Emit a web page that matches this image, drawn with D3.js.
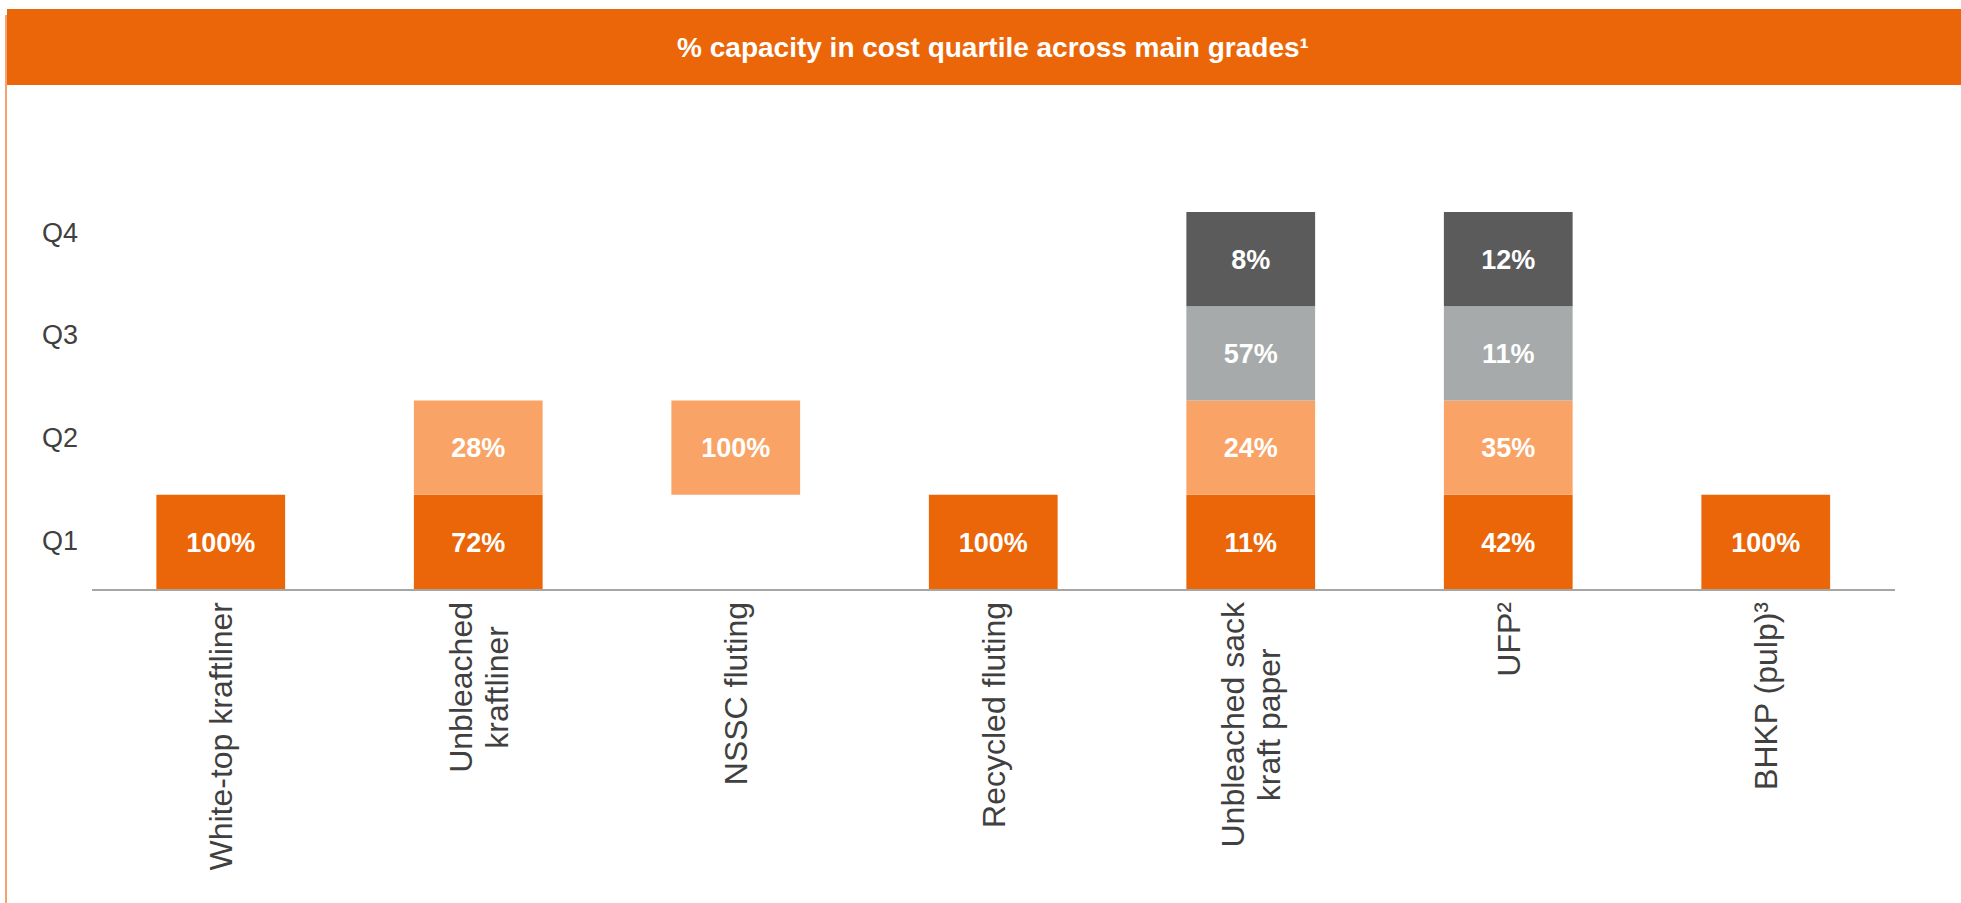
<!DOCTYPE html>
<html>
<head>
<meta charset="utf-8">
<script src="https://d3js.org/d3.v7.min.js"></script>
<style>
  body { margin: 0; background: #fff; }
  text { font-family: "Liberation Sans", Arial, sans-serif; }
</style>
</head>
<body>
<div id="chart"></div>
<script>
// grades along the x axis ("\n" = line break in the label)
var categories = ["White-top kraftliner", "Unbleached\nkraftliner", "NSSC fluting", "Recycled fluting",
                  "Unbleached sack\nkraft paper", "UFP²", "BHKP (pulp)³"];
var quartiles = ["Q1", "Q2", "Q3", "Q4"];

// % of capacity in each cost quartile (null = no block)
var q1 = [100, 72, null, 100, 11, 42, 100];
var q2 = [null, 28, 100, null, 24, 35, null];
var q3 = [null, null, null, null, 57, 11, null];
var q4 = [null, null, null, null, 8, 12, null];

var title = "% capacity in cost quartile across main grades¹";

var W = 1961, H = 903;
var colors = { Q1: "#eb6608", Q2: "#f9a466", Q3: "#a6aaab", Q4: "#5b5b5b" };

var svg = d3.select("#chart").append("svg")
    .attr("width", W)
    .attr("height", H);

// header band + left frame line
svg.append("rect").attr("x", 7).attr("y", 9).attr("width", W - 7).attr("height", 76)
    .attr("fill", "#eb6608");
svg.append("rect").attr("x", 5).attr("y", 15).attr("width", 2).attr("height", H - 15)
    .attr("fill", "#f5a36b");
svg.append("text")
    .attr("x", 993).attr("y", 57)
    .attr("text-anchor", "middle")
    .attr("fill", "#fff")
    .style("font-size", "28px")
    .style("font-weight", "bold")
    .text(title);

// scales
var x = d3.scaleBand()
    .domain(categories)
    .range([92, 1894.5])
    .paddingInner(0.5)
    .paddingOuter(0.25);

var y = d3.scaleBand()
    .domain(quartiles)
    .range([589, 212]);

// quartile labels sit a bit apart from the bands
var yLab = d3.scalePoint()
    .domain(quartiles)
    .range([540, 232]);

// flatten into cells
var series = [q1, q2, q3, q4];
var cells = [];
categories.forEach(function(c, i) {
    series.forEach(function(s, j) {
        if (s[i] != null) cells.push({ cat: c, q: quartiles[j], v: s[i] });
    });
});

svg.selectAll("rect.cell")
    .data(cells)
    .enter()
    .append("rect")
    .attr("class", "cell")
    .attr("x", function(d) { return x(d.cat); })
    .attr("y", function(d) { return y(d.q); })
    .attr("width", x.bandwidth())
    .attr("height", y.bandwidth())
    .attr("fill", function(d) { return colors[d.q]; });

svg.selectAll("text.val")
    .data(cells)
    .enter()
    .append("text")
    .attr("class", "val")
    .attr("x", function(d) { return x(d.cat) + x.bandwidth() / 2; })
    .attr("y", function(d) { return y(d.q) + y.bandwidth() / 2; })
    .attr("dy", "0.36em")
    .attr("text-anchor", "middle")
    .attr("fill", "#fff")
    .style("font-size", "27px")
    .style("font-weight", "bold")
    .text(function(d) { return d.v + "%"; });

// baseline
svg.append("line")
    .attr("x1", 92).attr("x2", 1895)
    .attr("y1", 590).attr("y2", 590)
    .attr("stroke", "#a6a6a6")
    .attr("stroke-width", 2);

// y labels
svg.selectAll("text.qlab")
    .data(quartiles)
    .enter()
    .append("text")
    .attr("class", "qlab")
    .attr("x", 42)
    .attr("y", function(d) { return yLab(d); })
    .attr("dy", "0.36em")
    .attr("fill", "#404040")
    .style("font-size", "27px")
    .text(function(d) { return d; });

// x labels, rotated, top of block at the axis
var labTop = 602, lineH = 36;
categories.forEach(function(c) {
    var lines = c.split("\n");
    var cx = x(c) + x.bandwidth() / 2;
    var g = svg.append("g")
        .attr("transform", "translate(" + cx + "," + labTop + ") rotate(-90)");
    var texts = lines.map(function(l, k) {
        return g.append("text")
            .attr("y", (k - (lines.length - 1) / 2) * lineH)
            .attr("dy", "0.36em")
            .attr("text-anchor", "middle")
            .attr("fill", "#404040")
            .style("font-size", "32px")
            .text(l);
    });
    var maxLen = d3.max(texts, function(t) { return t.node().getComputedTextLength(); });
    texts.forEach(function(t) { t.attr("x", -maxLen / 2); });
});
</script>
</body>
</html>
